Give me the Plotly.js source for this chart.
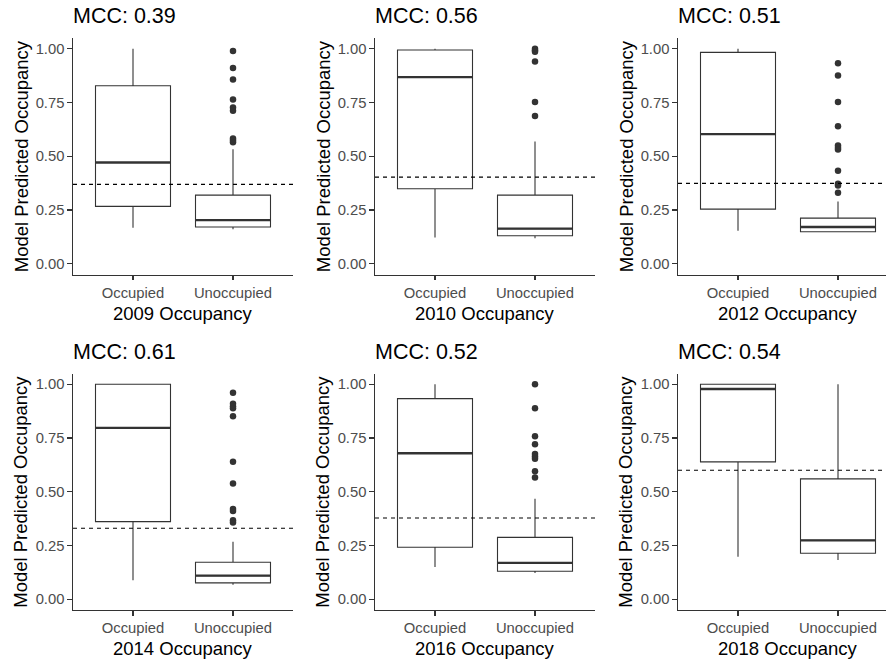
<!DOCTYPE html>
<html>
<head>
<meta charset="utf-8">
<script src="https://cdn.plot.ly/plotly-3.0.1.min.js"></script>
<style>html,body{margin:0;padding:0;background:#fff;}#chart{width:886px;height:661px;}</style>
</head>
<body>
<div id="chart"></div>
<script>
// ---------------- DATA ----------------
const categories = ['Occupied', 'Unoccupied'];
const years = ['2009', '2010', '2012', '2014', '2016', '2018'];
const mccLabels = ['MCC: 0.39', 'MCC: 0.56', 'MCC: 0.51', 'MCC: 0.61', 'MCC: 0.52', 'MCC: 0.54'];
const thresholds = [0.369, 0.403, 0.374, 0.330, 0.378, 0.600];

// per panel: [Occupied, Unoccupied]
const lowerFence = [[0.167, 0.160], [0.122, 0.119], [0.153, 0.149], [0.088, 0.067], [0.150, 0.122], [0.198, 0.183]];
const q1Vals     = [[0.267, 0.171], [0.349, 0.130], [0.254, 0.149], [0.361, 0.076], [0.242, 0.130], [0.639, 0.214]];
const medianVals = [[0.471, 0.203], [0.868, 0.163], [0.603, 0.171], [0.797, 0.110], [0.679, 0.169], [0.978, 0.274]];
const q3Vals     = [[0.828, 0.319], [0.994, 0.319], [0.983, 0.212], [1.000, 0.172], [0.933, 0.288], [1.000, 0.560]];
const upperFence = [[1.000, 0.533], [1.000, 0.569], [1.000, 0.290], [1.000, 0.268], [1.000, 0.467], [1.000, 1.000]];

// outliers (all in the Unoccupied group)
const outliers2009 = [0.989, 0.910, 0.857, 0.764, 0.727, 0.712, 0.583, 0.573, 0.565];
const outliers2010 = [1.000, 0.993, 0.986, 0.941, 0.752, 0.687];
const outliers2012 = [0.932, 0.876, 0.752, 0.640, 0.550, 0.540, 0.531, 0.433, 0.372, 0.364, 0.330];
const outliers2014 = [0.961, 0.909, 0.898, 0.888, 0.851, 0.639, 0.538, 0.420, 0.411, 0.367, 0.357];
const outliers2016 = [1.000, 0.888, 0.758, 0.721, 0.676, 0.664, 0.654, 0.595, 0.566];
const outliers2018 = [];
const outliers = [outliers2009, outliers2010, outliers2012, outliers2014, outliers2016, outliers2018];

// ---------------- LAYOUT GEOMETRY ----------------
const W = 886, H = 661;
const colLeft = [73, 375, 678];
const plotW = 220;           // px for x range 2.2 units
const rowTop = [38, 373.5];
const plotH = 236.5;
const px = v => v / W;
const py = v => 1 - v / H;
const FONT = 'Liberation Sans, Arial, sans-serif';
const INK = '#333333';

const traces = [];
const layout = {
  width: W, height: H,
  margin: {l: 0, r: 0, t: 0, b: 0},
  paper_bgcolor: '#ffffff', plot_bgcolor: '#ffffff',
  showlegend: false, hovermode: false,
  font: {family: FONT},
  shapes: [], annotations: []
};

for (let k = 0; k < 6; k++) {
  const col = k % 3, row = Math.floor(k / 3);
  const suffix = k === 0 ? '' : String(k + 1);
  const xa = 'x' + suffix, ya = 'y' + suffix;
  const left = colLeft[col];
  const right = Math.min(left + plotW, W);
  const top = rowTop[row], bottom = top + plotH;

  layout['xaxis' + suffix] = {
    domain: [px(left), px(right)],
    anchor: ya, type: 'category',
    categoryorder: 'array', categoryarray: categories,
    range: [-0.6, -0.6 + (right - left) / 100],
    showline: true, linecolor: INK, linewidth: 1.1,
    ticks: 'outside', ticklen: 4.5, tickwidth: 1.1, tickcolor: INK,
    tickfont: {family: FONT, size: 14.8, color: '#4D4D4D'},
    showgrid: false, zeroline: false, fixedrange: true
  };
  layout['yaxis' + suffix] = {
    domain: [py(bottom), py(top)],
    anchor: xa, range: [-0.05, 1.05],
    tickmode: 'linear', tick0: 0, dtick: 0.25, tickformat: '.2f',
    showline: true, linecolor: INK, linewidth: 1.1,
    ticks: 'outside', ticklen: 4.5, tickwidth: 1.1, tickcolor: INK,
    tickfont: {family: FONT, size: 14.8, color: '#4D4D4D'},
    showgrid: false, zeroline: false, fixedrange: true
  };

  traces.push({
    type: 'box', xaxis: xa, yaxis: ya,
    x: categories,
    lowerfence: lowerFence[k], q1: q1Vals[k], median: medianVals[k],
    q3: q3Vals[k], upperfence: upperFence[k],
    boxpoints: false, width: 0.75, whiskerwidth: 0,
    fillcolor: '#ffffff', line: {color: INK, width: 1.1}
  });

  if (outliers[k].length) {
    traces.push({
      type: 'scatter', mode: 'markers', xaxis: xa, yaxis: ya,
      x: outliers[k].map(() => categories[1]), y: outliers[k],
      marker: {color: INK, size: 6.5}
    });
  }

  // thicker median lines (ggplot style)
  medianVals[k].forEach((m, i) => {
    layout.shapes.push({
      type: 'line', xref: xa, yref: ya,
      x0: i - 0.375, x1: i + 0.375, y0: m, y1: m,
      line: {color: INK, width: 2.3}
    });
  });

  // threshold dashed line
  layout.shapes.push({
    type: 'line', xref: xa + ' domain', yref: ya,
    x0: 0, x1: 1, y0: thresholds[k], y1: thresholds[k],
    line: {color: '#000000', width: 1.1, dash: '4px,4px'}
  });

  // titles
  layout.annotations.push({
    text: mccLabels[k], xref: 'paper', yref: 'paper',
    x: px(left - 2), y: py(top - 22), xanchor: 'left', yanchor: 'middle',
    showarrow: false, font: {family: FONT, size: 21.5, color: '#000000'}
  });
  layout.annotations.push({
    text: 'Model Predicted Occupancy', xref: 'paper', yref: 'paper',
    x: px(left - 52), y: py(top + plotH / 2), xanchor: 'center', yanchor: 'middle',
    textangle: -90, showarrow: false, font: {family: FONT, size: 18.5, color: '#000000'}
  });
  layout.annotations.push({
    text: years[k] + ' Occupancy', xref: 'paper', yref: 'paper',
    x: px(left + plotW / 2), y: py(bottom + 38.5), xanchor: 'center', yanchor: 'middle',
    showarrow: false, font: {family: FONT, size: 18.5, color: '#000000'}
  });
}

Plotly.newPlot('chart', traces, layout, {staticPlot: true, displayModeBar: false});
</script>
</body>
</html>
